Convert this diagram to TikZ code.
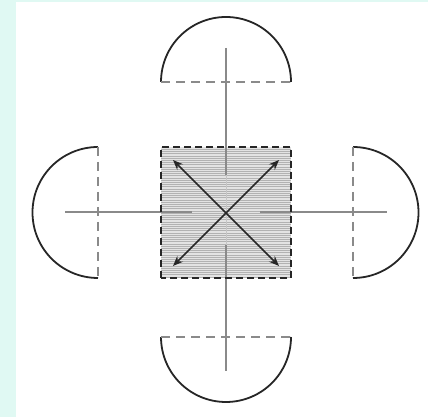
\documentclass[tikz,border=0pt]{standalone}
\usetikzlibrary{arrows.meta}
\definecolor{mint}{HTML}{E0F9F3}
\definecolor{lgray}{HTML}{8A8A8A}
\begin{document}
\begin{tikzpicture}[x=1pt,y=1pt,
  arcline/.style={black!85,line width=1.8pt},
  diam/.style={lgray,line width=1.7pt,dash pattern=on 9pt off 6pt},
  axis/.style={lgray,line width=1.7pt},
  sqborder/.style={black!85,line width=2pt,dash pattern=on 7pt off 4pt},
  dblarrow/.style={black!85,line width=1.6pt,{Stealth[length=10pt,width=8pt]}-{Stealth[length=10pt,width=8pt]}}]
\useasboundingbox (0,0) rectangle (428,417);
\fill[mint] (0,0) rectangle (428,417);
\fill[white] (16,0) rectangle (428,415);
% central square with hatching
\fill[gray!22] (161,139) rectangle (291,270);
\foreach \yy in {140,142.2,...,269}
  \draw[gray!60,line width=0.6pt] (161,\yy) -- (291,\yy);
\draw[gray!45,line width=0.6pt] (226,139) -- (226,270);
% axes
\draw[axis] (226,369) -- (226,242);
\draw[axis] (226,172) -- (226,46);
\draw[axis] (65,205) -- (192,205);
\draw[axis] (260,205) -- (387,205);
% semicircles
\draw[arcline] (161,335) arc[start angle=180,end angle=0,radius=65];
\draw[diam] (161,335) -- (291,335);
\draw[arcline] (161,80) arc[start angle=180,end angle=360,radius=65];
\draw[diam] (161,80) -- (291,80);
\draw[arcline] (98,270) arc[start angle=90,end angle=270,radius=65.5];
\draw[diam] (98,270) -- (98,139);
\draw[arcline] (353,270) arc[start angle=90,end angle=-90,radius=65.5];
\draw[diam] (353,270) -- (353,139);
% square border
\draw[sqborder] (161,139) rectangle (291,270);
% arrows
\coordinate (a1) at (173,257);
\coordinate (a2) at (279,151);
\coordinate (b1) at (279,257);
\coordinate (b2) at (173,151);
\draw[dblarrow] (a1) -- (a2);
\draw[dblarrow] (b1) -- (b2);
\end{tikzpicture}
\end{document}
